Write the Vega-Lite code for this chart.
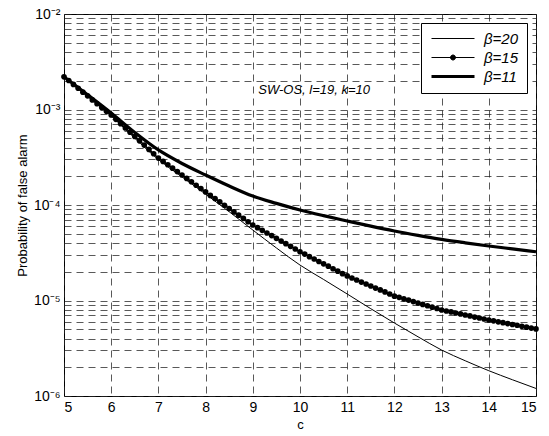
{
  "$schema": "https://vega.github.io/schema/vega-lite/v6.json",
  "width": 472,
  "height": 382,
  "autosize": {"type": "none"},
  "padding": {"left": 64, "top": 14, "right": 13, "bottom": 40},
  "background": "white",
  "config": {
    "font": "Liberation Sans",
    "view": {"stroke": "black", "strokeWidth": 1},
    "axis": {
      "grid": true,
      "gridDash": [7, 5],
      "gridColor": "#222",
      "gridOpacity": 0.75,
      "gridWidth": 1,
      "domain": false,
      "ticks": false,
      "labelFontSize": 14,
      "labelColor": "black",
      "titleFontSize": 13,
      "titleFontWeight": "normal",
      "titleColor": "black"
    },
    "legend": {
      "title": null,
      "orient": "top-right",
      "offset": 9,
      "strokeColor": "black",
      "fillColor": "white",
      "padding": 8,
      "labelFontSize": 15,
      "labelFontStyle": "italic",
      "labelColor": "black",
      "symbolSize": 100,
      "labelOffset": 40,
      "rowPadding": 3
    }
  },
  "datasets": {
    "curves": [
      {"c": 5, "p": 0.0022, "s": "β=11"},
      {"c": 5.5, "p": 0.00143, "s": "β=11"},
      {"c": 6, "p": 0.000919, "s": "β=11"},
      {"c": 6.5, "p": 0.000575, "s": "β=11"},
      {"c": 7, "p": 0.000377, "s": "β=11"},
      {"c": 7.5, "p": 0.000272, "s": "β=11"},
      {"c": 8, "p": 0.000206, "s": "β=11"},
      {"c": 8.5, "p": 0.000158, "s": "β=11"},
      {"c": 9, "p": 0.000124, "s": "β=11"},
      {"c": 9.5, "p": 0.000104, "s": "β=11"},
      {"c": 10, "p": 8.87e-5, "s": "β=11"},
      {"c": 10.5, "p": 7.73e-5, "s": "β=11"},
      {"c": 11, "p": 6.8e-5, "s": "β=11"},
      {"c": 11.5, "p": 6.0e-5, "s": "β=11"},
      {"c": 12, "p": 5.34e-5, "s": "β=11"},
      {"c": 12.5, "p": 4.81e-5, "s": "β=11"},
      {"c": 13, "p": 4.37e-5, "s": "β=11"},
      {"c": 13.5, "p": 4.02e-5, "s": "β=11"},
      {"c": 14, "p": 3.72e-5, "s": "β=11"},
      {"c": 14.5, "p": 3.47e-5, "s": "β=11"},
      {"c": 15, "p": 3.24e-5, "s": "β=11"},
      {"c": 5, "p": 0.0022, "s": "β=20"},
      {"c": 5.5, "p": 0.00138, "s": "β=20"},
      {"c": 6, "p": 0.000855, "s": "β=20"},
      {"c": 6.5, "p": 0.0005, "s": "β=20"},
      {"c": 7, "p": 0.000299, "s": "β=20"},
      {"c": 7.5, "p": 0.000197, "s": "β=20"},
      {"c": 8, "p": 0.00013, "s": "β=20"},
      {"c": 8.5, "p": 8.5e-5, "s": "β=20"},
      {"c": 9, "p": 5.47e-5, "s": "β=20"},
      {"c": 9.5, "p": 3.55e-5, "s": "β=20"},
      {"c": 10, "p": 2.35e-5, "s": "β=20"},
      {"c": 10.5, "p": 1.66e-5, "s": "β=20"},
      {"c": 11, "p": 1.17e-5, "s": "β=20"},
      {"c": 11.5, "p": 8.2e-6, "s": "β=20"},
      {"c": 12, "p": 5.81e-6, "s": "β=20"},
      {"c": 12.5, "p": 4.17e-6, "s": "β=20"},
      {"c": 13, "p": 3.03e-6, "s": "β=20"},
      {"c": 13.5, "p": 2.34e-6, "s": "β=20"},
      {"c": 14, "p": 1.84e-6, "s": "β=20"},
      {"c": 14.5, "p": 1.48e-6, "s": "β=20"},
      {"c": 15, "p": 1.2e-6, "s": "β=20"},
      {"c": 5.0, "p": 2.20e-3, "s": "β=15"},
      {"c": 5.1, "p": 2.01e-3, "s": "β=15"},
      {"c": 5.2, "p": 1.83e-3, "s": "β=15"},
      {"c": 5.3, "p": 1.67e-3, "s": "β=15"},
      {"c": 5.4, "p": 1.52e-3, "s": "β=15"},
      {"c": 5.5, "p": 1.39e-3, "s": "β=15"},
      {"c": 5.6, "p": 1.26e-3, "s": "β=15"},
      {"c": 5.7, "p": 1.15e-3, "s": "β=15"},
      {"c": 5.8, "p": 1.05e-3, "s": "β=15"},
      {"c": 5.9, "p": 9.59e-4, "s": "β=15"},
      {"c": 6.0, "p": 8.75e-4, "s": "β=15"},
      {"c": 6.1, "p": 7.89e-4, "s": "β=15"},
      {"c": 6.2, "p": 7.11e-4, "s": "β=15"},
      {"c": 6.3, "p": 6.41e-4, "s": "β=15"},
      {"c": 6.4, "p": 5.78e-4, "s": "β=15"},
      {"c": 6.5, "p": 5.21e-4, "s": "β=15"},
      {"c": 6.6, "p": 4.70e-4, "s": "β=15"},
      {"c": 6.7, "p": 4.24e-4, "s": "β=15"},
      {"c": 6.8, "p": 3.82e-4, "s": "β=15"},
      {"c": 6.9, "p": 3.44e-4, "s": "β=15"},
      {"c": 7.0, "p": 3.10e-4, "s": "β=15"},
      {"c": 7.1, "p": 2.86e-4, "s": "β=15"},
      {"c": 7.2, "p": 2.64e-4, "s": "β=15"},
      {"c": 7.3, "p": 2.43e-4, "s": "β=15"},
      {"c": 7.4, "p": 2.24e-4, "s": "β=15"},
      {"c": 7.5, "p": 2.06e-4, "s": "β=15"},
      {"c": 7.6, "p": 1.90e-4, "s": "β=15"},
      {"c": 7.7, "p": 1.75e-4, "s": "β=15"},
      {"c": 7.8, "p": 1.61e-4, "s": "β=15"},
      {"c": 7.9, "p": 1.49e-4, "s": "β=15"},
      {"c": 8.0, "p": 1.37e-4, "s": "β=15"},
      {"c": 8.1, "p": 1.26e-4, "s": "β=15"},
      {"c": 8.2, "p": 1.17e-4, "s": "β=15"},
      {"c": 8.3, "p": 1.08e-4, "s": "β=15"},
      {"c": 8.4, "p": 9.95e-5, "s": "β=15"},
      {"c": 8.5, "p": 9.18e-5, "s": "β=15"},
      {"c": 8.6, "p": 8.49e-5, "s": "β=15"},
      {"c": 8.7, "p": 7.83e-5, "s": "β=15"},
      {"c": 8.8, "p": 7.24e-5, "s": "β=15"},
      {"c": 8.9, "p": 6.68e-5, "s": "β=15"},
      {"c": 9.0, "p": 6.18e-5, "s": "β=15"},
      {"c": 9.1, "p": 5.79e-5, "s": "β=15"},
      {"c": 9.2, "p": 5.43e-5, "s": "β=15"},
      {"c": 9.3, "p": 5.09e-5, "s": "β=15"},
      {"c": 9.4, "p": 4.78e-5, "s": "β=15"},
      {"c": 9.5, "p": 4.48e-5, "s": "β=15"},
      {"c": 9.6, "p": 4.20e-5, "s": "β=15"},
      {"c": 9.7, "p": 3.94e-5, "s": "β=15"},
      {"c": 9.8, "p": 3.69e-5, "s": "β=15"},
      {"c": 9.9, "p": 3.46e-5, "s": "β=15"},
      {"c": 10.0, "p": 3.24e-5, "s": "β=15"},
      {"c": 10.1, "p": 3.06e-5, "s": "β=15"},
      {"c": 10.2, "p": 2.88e-5, "s": "β=15"},
      {"c": 10.3, "p": 2.72e-5, "s": "β=15"},
      {"c": 10.4, "p": 2.56e-5, "s": "β=15"},
      {"c": 10.5, "p": 2.42e-5, "s": "β=15"},
      {"c": 10.6, "p": 2.29e-5, "s": "β=15"},
      {"c": 10.7, "p": 2.15e-5, "s": "β=15"},
      {"c": 10.8, "p": 2.03e-5, "s": "β=15"},
      {"c": 10.9, "p": 1.91e-5, "s": "β=15"},
      {"c": 11.0, "p": 1.81e-5, "s": "β=15"},
      {"c": 11.1, "p": 1.72e-5, "s": "β=15"},
      {"c": 11.2, "p": 1.64e-5, "s": "β=15"},
      {"c": 11.3, "p": 1.56e-5, "s": "β=15"},
      {"c": 11.4, "p": 1.49e-5, "s": "β=15"},
      {"c": 11.5, "p": 1.42e-5, "s": "β=15"},
      {"c": 11.6, "p": 1.35e-5, "s": "β=15"},
      {"c": 11.7, "p": 1.29e-5, "s": "β=15"},
      {"c": 11.8, "p": 1.23e-5, "s": "β=15"},
      {"c": 11.9, "p": 1.17e-5, "s": "β=15"},
      {"c": 12.0, "p": 1.11e-5, "s": "β=15"},
      {"c": 12.1, "p": 1.08e-5, "s": "β=15"},
      {"c": 12.2, "p": 1.04e-5, "s": "β=15"},
      {"c": 12.3, "p": 1.01e-5, "s": "β=15"},
      {"c": 12.4, "p": 9.75e-6, "s": "β=15"},
      {"c": 12.5, "p": 9.42e-6, "s": "β=15"},
      {"c": 12.6, "p": 9.10e-6, "s": "β=15"},
      {"c": 12.7, "p": 8.81e-6, "s": "β=15"},
      {"c": 12.8, "p": 8.51e-6, "s": "β=15"},
      {"c": 12.9, "p": 8.24e-6, "s": "β=15"},
      {"c": 13.0, "p": 7.96e-6, "s": "β=15"},
      {"c": 13.1, "p": 7.76e-6, "s": "β=15"},
      {"c": 13.2, "p": 7.59e-6, "s": "β=15"},
      {"c": 13.3, "p": 7.40e-6, "s": "β=15"},
      {"c": 13.4, "p": 7.23e-6, "s": "β=15"},
      {"c": 13.5, "p": 7.05e-6, "s": "β=15"},
      {"c": 13.6, "p": 6.89e-6, "s": "β=15"},
      {"c": 13.7, "p": 6.71e-6, "s": "β=15"},
      {"c": 13.8, "p": 6.56e-6, "s": "β=15"},
      {"c": 13.9, "p": 6.40e-6, "s": "β=15"},
      {"c": 14.0, "p": 6.25e-6, "s": "β=15"},
      {"c": 14.1, "p": 6.12e-6, "s": "β=15"},
      {"c": 14.2, "p": 5.98e-6, "s": "β=15"},
      {"c": 14.3, "p": 5.86e-6, "s": "β=15"},
      {"c": 14.4, "p": 5.73e-6, "s": "β=15"},
      {"c": 14.5, "p": 5.61e-6, "s": "β=15"},
      {"c": 14.6, "p": 5.50e-6, "s": "β=15"},
      {"c": 14.7, "p": 5.37e-6, "s": "β=15"},
      {"c": 14.8, "p": 5.26e-6, "s": "β=15"},
      {"c": 14.9, "p": 5.14e-6, "s": "β=15"},
      {"c": 15.0, "p": 5.04e-6, "s": "β=15"}
    ],
    "note": [
      {"c": 10.3, "p": 0.0016, "label": "SW-OS, l=19, k=10"}
    ]
  },
  "encoding": {
    "x": {
      "field": "c", "type": "quantitative",
      "scale": {"domain": [5, 15], "nice": false, "zero": false},
      "axis": {"values": [5, 6, 7, 8, 9, 10, 11, 12, 13, 14, 15], "title": "c", "titlePadding": 4, "labelPadding": 4, "format": "d"}
    },
    "y": {
      "field": "p", "type": "quantitative",
      "scale": {"type": "log", "domain": [1e-6, 0.01], "nice": false},
      "axis": {
        "values": [1e-6, 2e-6, 3e-6, 4e-6, 5e-6, 6e-6, 7e-6, 8e-6, 9e-6, 1e-5, 2e-5, 3e-5, 4e-5, 5e-5, 6e-5, 7e-5, 8e-5, 9e-5, 0.0001, 0.0002, 0.0003, 0.0004, 0.0005, 0.0006, 0.0007, 0.0008, 0.0009, 0.001, 0.002, 0.003, 0.004, 0.005, 0.006, 0.007, 0.008, 0.009, 0.01],
        "labelExpr": "datum.value == 1e-6 ? '10⁻⁶' : datum.value == 1e-5 ? '10⁻⁵' : datum.value == 0.0001 ? '10⁻⁴' : datum.value == 0.001 ? '10⁻³' : datum.value == 0.01 ? '10⁻²' : ''",
        "title": "Probability of false alarm",
        "titlePadding": 4,
        "labelPadding": 4
      }
    }
  },
  "layer": [
    {
      "data": {"name": "curves"},
      "transform": [{"filter": "datum.s == 'β=20'"}],
      "mark": {"type": "line", "interpolate": "monotone", "clip": true, "strokeWidth": 1},
      "encoding": {
        "color": {
          "field": "s", "type": "nominal",
          "scale": {"domain": ["β=20", "β=15", "β=11"], "range": ["black", "black", "black"]},
          "legend": {
            "encode": {
              "symbols": {
                "update": {
                  "shape": {"signal": "datum.value == 'β=15' ? 'M-1,0H7.6M2.8,0a0.5,0.5 0 1,0 1,0a0.5,0.5 0 1,0 -1,0' : 'M-1,0H7.6'"},
                  "strokeWidth": {"signal": "datum.value == 'β=11' ? 3.2 : 1"},
                  "stroke": {"value": "black"},
                  "fill": {"value": "black"}
                }
              }
            }
          }
        }
      }
    },
    {
      "data": {"name": "curves"},
      "transform": [{"filter": "datum.s == 'β=15'"}],
      "mark": {"type": "line", "interpolate": "monotone", "clip": true, "strokeWidth": 1.5},
      "encoding": {
        "color": {"field": "s", "type": "nominal"}
      }
    },
    {
      "data": {"name": "curves"},
      "transform": [{"filter": "datum.s == 'β=11'"}],
      "mark": {"type": "line", "interpolate": "monotone", "clip": true, "strokeWidth": 3.2},
      "encoding": {
        "color": {"field": "s", "type": "nominal"}
      }
    },
    {
      "data": {"name": "curves"},
      "transform": [{"filter": "datum.s == 'β=15'"}],
      "mark": {"type": "point", "filled": true, "size": 32, "color": "black", "opacity": 1}
    },
    {
      "data": {"name": "note"},
      "mark": {"type": "text", "fontStyle": "italic", "fontSize": 13, "color": "black", "font": "Liberation Sans"},
      "encoding": {
        "text": {"field": "label"}
      }
    }
  ]
}
